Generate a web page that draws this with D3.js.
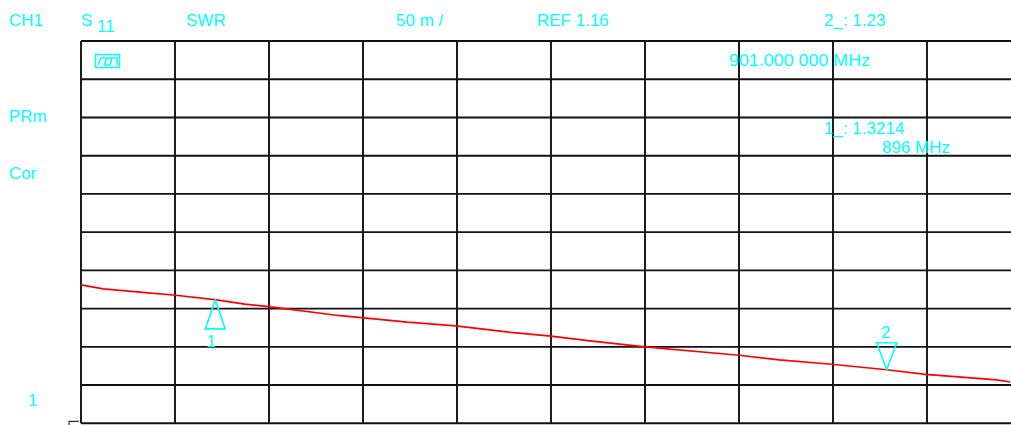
<!DOCTYPE html>
<html><head><meta charset="utf-8">
<script src="https://cdn.jsdelivr.net/npm/d3@7"></script>
<style>
html,body{margin:0;padding:0;background:#fff;overflow:hidden}
svg text{font-family:"Liberation Sans",Arial,sans-serif;fill:#00ffff}
</style></head><body>
<svg id="c" width="1011" height="425"></svg>
<script>
// ---- data ----
const freqMHz = [895.0, 895.166, 895.48, 895.705, 896.01, 896.22, 896.40, 896.93, 897.09, 897.43, 897.79, 898.17, 898.50, 898.79, 899.20, 899.90, 900.20, 900.59, 901.0, 901.29, 901.82, 901.92];
const swrValues = [1.341, 1.3358, 1.3309, 1.3275, 1.3214, 1.3158, 1.3126, 1.3007, 1.2982, 1.2922, 1.2874, 1.2795, 1.2739, 1.2677, 1.2599, 1.249, 1.2429, 1.2372, 1.23, 1.2241, 1.2167, 1.2140];
const startMHz = 895, stopMHz = 902;
const refValue = 1.16, perDiv = 0.05;
const xDivs = 10, yDivs = 10;
const markerNames = ["1", "2"];
const markerFreqs = [896, 901];
const markerVals = [1.3214, 1.23];
const headerTexts = ["CH1", "SWR", "50 m /", "REF 1.16", "2_: 1.23"];
const sideTexts = ["PRm", "Cor"];
const marker2Freq = "901.000 000 MHz";
const marker1Lines = ["1_: 1.3214", "896 MHz"];
const refPosLabel = "1";

const svg = d3.select("#c");
const L = 81, T = 41, W = 940, H = 382.3;
const x = d3.scaleLinear().domain([startMHz, stopMHz]).range([L, L + W]);
const y = d3.scaleLinear().domain([refValue, refValue + perDiv * yDivs]).range([T + H, T]);

// grid
const xTicks = d3.range(xDivs + 1).map(i => startMHz + i * (stopMHz - startMHz) / xDivs);
const yTicks = d3.range(yDivs + 1).map(i => refValue + i * perDiv);
const g = svg.append("g");
g.selectAll("line.v").data(xTicks).join("line")
  .attr("x1", d => x(d)).attr("x2", d => x(d)).attr("y1", T).attr("y2", T + H)
  .attr("stroke", "#111").attr("stroke-width", 1.9);
g.selectAll("line.h").data(yTicks).join("line")
  .attr("x1", L).attr("x2", L + W).attr("y1", d => y(d)).attr("y2", d => y(d))
  .attr("stroke", "#111").attr("stroke-width", 1.9);

// small corner mark
svg.append("path").attr("d", `M${L-12},${T+H+2} L${L-12},${T+H-2} L${L-2},${T+H-2}`)
  .attr("fill", "none").attr("stroke", "#333").attr("stroke-width", 1.2);

// trace
const pts = freqMHz.map((f, i) => [f, swrValues[i]]);
svg.append("path").datum(pts)
  .attr("d", d3.line().x(d => x(d[0])).y(d => y(d[1])))
  .attr("fill", "none").attr("stroke", "#ff0000").attr("stroke-width", 1.7);

// markers
const cy = "#00ffff";
markerFreqs.forEach((f, i) => {
  const mx = x(f), my = y(markerVals[i]);
  if (i === 0) {
    svg.append("path").attr("d", `M${mx},${my} L${mx-10},${my+29} L${mx+10},${my+29} Z`)
      .attr("fill", "none").attr("stroke", cy).attr("stroke-width", 1.6);
    svg.append("text").attr("x", mx - 4).attr("y", my + 47).attr("font-size", 17)
      .attr("text-anchor", "middle").text(markerNames[i]);
  } else {
    svg.append("path").attr("d", `M${mx},${my} L${mx-10},${my-27} L${mx+10},${my-27} Z`)
      .attr("fill", "none").attr("stroke", cy).attr("stroke-width", 1.6);
    svg.append("text").attr("x", mx - 1).attr("y", my - 32).attr("font-size", 17)
      .attr("text-anchor", "middle").text(markerNames[i]);
  }
});

// header texts
const hx = [9, 186, 396, 537, 824];
headerTexts.forEach((t, i) => {
  svg.append("text").attr("x", hx[i]).attr("y", 26).attr("font-size", 17).text(t);
});
svg.append("text").attr("x", 81).attr("y", 26).attr("font-size", 17).text("S");
svg.append("text").attr("x", 97).attr("y", 32).attr("font-size", 17).text("11");

const sy = [122, 179];
sideTexts.forEach((t, i) => {
  svg.append("text").attr("x", 9).attr("y", sy[i]).attr("font-size", 17).text(t);
});
svg.append("text").attr("x", 28).attr("y", 406).attr("font-size", 17).text(refPosLabel);

svg.append("text").attr("x", 729).attr("y", 66).attr("font-size", 17)
  .attr("textLength", 141).attr("lengthAdjust", "spacingAndGlyphs").text(marker2Freq);
svg.append("text").attr("x", 824).attr("y", 134).attr("font-size", 17).text(marker1Lines[0]);
svg.append("text").attr("x", 882).attr("y", 153).attr("font-size", 17).text(marker1Lines[1]);

// small icon
const ic = svg.append("g").attr("fill", "none").attr("stroke", cy).attr("stroke-width", 1.5);
ic.append("rect").attr("x", 95.5).attr("y", 54.5).attr("width", 24).attr("height", 13);
ic.append("path").attr("d", "M98,65 L101,58 L106,58 M104,65 L107,58 L112,58 L110,65 L104,65 M113,58 L117,58 L117,65");
</script>
</body></html>
